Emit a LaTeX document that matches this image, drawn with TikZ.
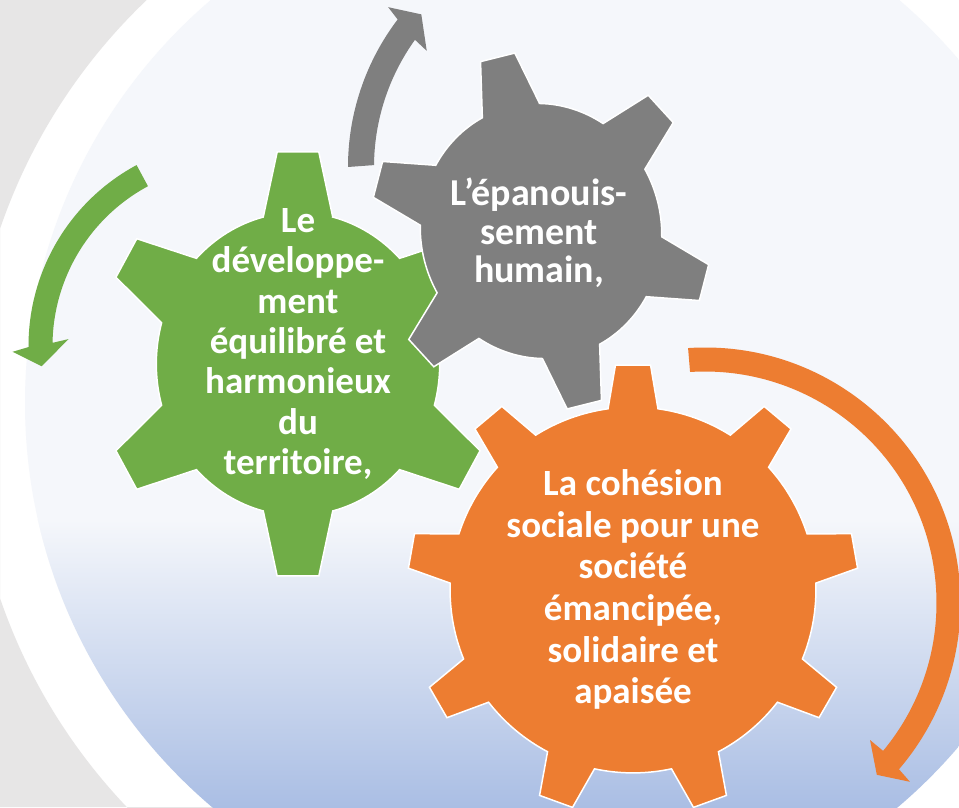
\documentclass[tikz,border=0pt]{standalone}
\usepackage{fontspec}
\setmainfont{Carlito}
\definecolor{gearGreen}{HTML}{70AD47}
\definecolor{gearGrey}{HTML}{7F7F7F}
\definecolor{gearOrange}{HTML}{ED7D31}
\definecolor{slideGrey}{HTML}{E7E6E6}
\definecolor{discTop}{HTML}{F5F7FB}
\definecolor{discBottom}{HTML}{AABEE4}
\tikzstyle{baseGear}=[draw=white, line width=1.5pt]
\tikzstyle{gearLabel}=[text=white, align=center, inner sep=0pt]

% gear outline, tooth axis at 90: teeth, body r, tip r, tip half-angle, base half-angle
\newcommand{\gearpath}[5]{(90-#5:#2)
  \foreach \i in {1,...,#1}{
    -- ({90+(\i-1)*360/#1-#4}:#3) -- ({90+(\i-1)*360/#1+#4}:#3)
    -- ({90+(\i-1)*360/#1+#5}:#2)
    arc[start angle={90+(\i-1)*360/#1+#5}, end angle={90+\i*360/#1-#5}, radius=#2]
  } -- cycle}

\begin{document}
\begin{tikzpicture}[x=1pt, y=1pt]

    \useasboundingbox (0,0) rectangle (959,807);
    \fill[white] (0,0) rectangle (959,807);
    \begin{scope}
        \clip (0,0) rectangle (540,807);
        \fill[slideGrey, even odd rule] (0,0) rectangle (540,807) (540.5,393.5) circle (571);
    \end{scope}
    \begin{scope}
        \clip (555,404) circle (530);
        \fill[discTop] (0,0) rectangle (959,807);
        \shade[top color=discTop, bottom color=discBottom] (0,0) rectangle (959,287);
    \end{scope}

    % gears
    \fill[baseGear, fill=gearGreen, shift={(298,443)}, xscale=0.935, scale=212] \gearpath{6}{0.715}{1.0055}{6}{14.2};
    \fill[baseGear, fill=gearGrey, shift={(541,576)}, rotate=14, xscale=0.94, scale=179] \gearpath{6}{0.715}{1.0055}{6}{14.2};
    \fill[baseGear, fill=gearOrange, shift={(633,217)}, scale=225] \gearpath{9}{0.813}{1.003}{4.46}{7.85};

    % turning arrows
    \fill[gearGreen, shift={(234,461)}] (118.3:205.5) arc[start angle=118.3, end angle=180.3, radius=205.5]
        -- (181.5:221.5) -- (186:193.5) -- (177.6:165.5) -- (179:181.5)
        arc[start angle=179, end angle=118.3, radius=181.5] -- cycle;
    \fill[gearGrey, shift={(592,640)}] (180:244) arc[start angle=180, end angle=142.8, radius=244]
        -- (141.9:259) -- (138.2:229) -- (144.9:202) -- (144.3:218)
        arc[start angle=144.3, end angle=179.5, radius=218] -- cycle;
    \fill[gearOrange, shift={(705,204)}] (93.8:255.5) arc[start angle=93.8, end angle=-40.6, radius=255.5]
        -- (-41.1:272) -- (-45:243) -- (-39.7:214.5) -- (-39.7:231.5)
        arc[start angle=-39.7, end angle=93.7, radius=231.5] -- cycle;

    \node[gearLabel, font=\bfseries\fontsize{37}{40.3}\selectfont] (dev) at (298,463)
        {Le\\développe-\\ment\\équilibré et\\harmonieux\\du\\territoire,};
    \node[gearLabel, font=\bfseries\fontsize{38}{38.5}\selectfont] (epa) at (539,574)
        {L’épanouis-\\sement\\humain,};
    \node[gearLabel, font=\bfseries\fontsize{37}{41.7}\selectfont] (coh) at (633,217.5)
        {La cohésion\\sociale pour une\\société\\émancipée,\\solidaire et\\apaisée};

\end{tikzpicture}
\end{document}
